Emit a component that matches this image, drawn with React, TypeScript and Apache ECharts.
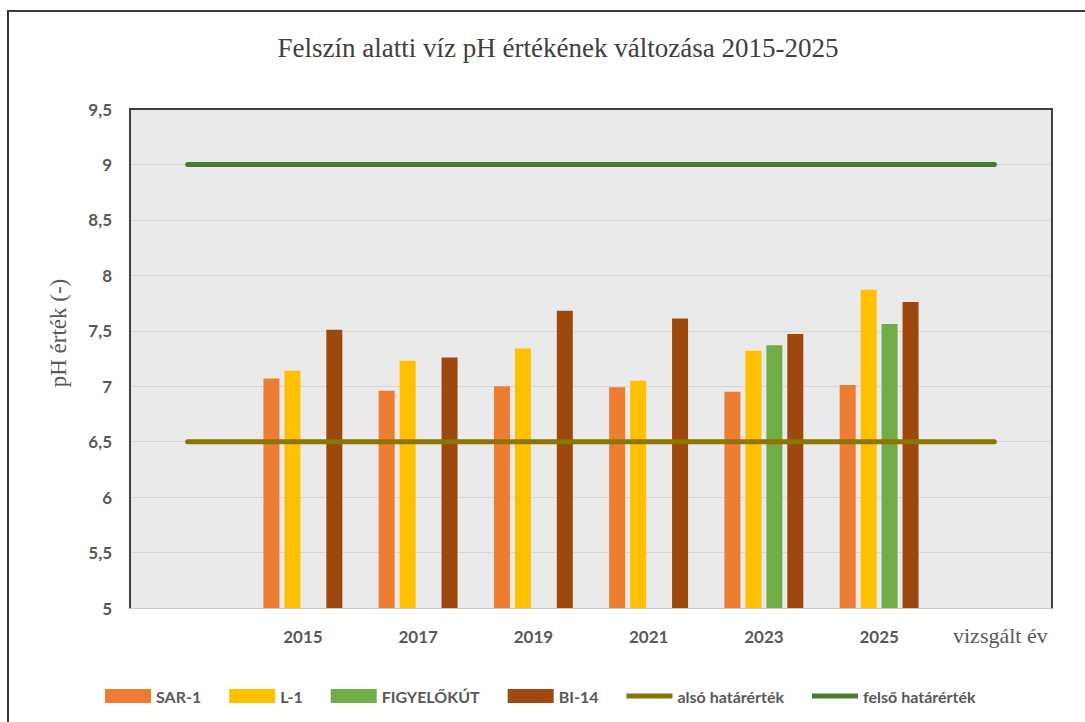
import React, { useEffect, useRef } from "react";
import * as echarts from "echarts";

const categories = ["", "2015", "2017", "2019", "2021", "2023", "2025", ""];
const sar1 = [null, 7.07, 6.96, 7.0, 6.99, 6.95, 7.01, null];
const l1 = [null, 7.14, 7.23, 7.34, 7.05, 7.32, 7.87, null];
const figyelokut = [null, null, null, null, null, 7.37, 7.56, null];
const bi14 = [null, 7.51, 7.26, 7.68, 7.61, 7.47, 7.76, null];
const alsoHatar = [6.5, 6.5, 6.5, 6.5, 6.5, 6.5, 6.5, 6.5];
const felsoHatar = [9, 9, 9, 9, 9, 9, 9, 9];
const yMin = 5;
const yMax = 9.5;
const yStep = 0.5;

const labelFont = "Lato, 'Open Sans', sans-serif";
const serifFont = "'Liberation Serif', 'DejaVu Serif', serif";
const textGray = "#595959";
const lineIcon = "path://M0,0L46,0L46,5L0,5Z";

export default function App() {
  const ref = useRef<HTMLDivElement>(null);
  useEffect(() => {
    if (!ref.current) return;
    const chart = echarts.init(ref.current, undefined, { renderer: "svg" });
    const bar = (name: string, data: any[], color: string) => ({
      name,
      type: "bar",
      data,
      barWidth: 16,
      barGap: "31%",
      itemStyle: { color },
      z: 2,
    });
    const line = (name: string, data: number[], color: string) => ({
      name,
      type: "line",
      data,
      symbol: "none",
      lineStyle: { color, width: 5, cap: "round" },
      itemStyle: { color },
      z: 3,
    });
    chart.setOption({
      animation: false,
      backgroundColor: "#ffffff",
      title: {
        text: "Felszín alatti víz pH értékének változása 2015-2025",
        left: 553,
        textAlign: "center",
        top: 29,
        textStyle: {
          fontFamily: serifFont,
          fontSize: 27,
          fontWeight: "normal",
          color: "#404040",
        },
      },
      grid: {
        left: 130,
        right: 33,
        top: 109,
        bottom: 114,
        show: true,
        backgroundColor: "#eaeaea",
        borderWidth: 0,
      },
      legend: {
        left: 100,
        top: 683,
        itemWidth: 46,
        itemHeight: 14,
        itemGap: 28,
        textStyle: {
          fontFamily: labelFont,
          fontWeight: "bold",
          fontSize: 16,
          color: textGray,
        },
        data: [
          { name: "SAR-1", icon: "rect" },
          { name: "L-1", icon: "rect" },
          { name: "FIGYELŐKÚT", icon: "rect" },
          { name: "BI-14", icon: "rect" },
          { name: "alsó határérték", icon: lineIcon },
          { name: "felső határérték", icon: lineIcon },
        ],
      },
      xAxis: [
        {
          type: "category",
          data: categories,
          boundaryGap: true,
          axisLine: { lineStyle: { color: "#c8c8c8", width: 1 } },
          axisTick: { show: false },
          axisLabel: {
            margin: 20,
            fontFamily: labelFont,
            fontWeight: "bold",
            fontSize: 17,
            color: textGray,
            interval: 0,
          },
          name: "vizsgált év",
          nameLocation: "end",
          nameGap: -99,
          nameTextStyle: {
            fontFamily: serifFont,
            fontSize: 22,
            color: textGray,
            align: "left",
            verticalAlign: "top",
            padding: [16, 0, 0, 0],
          },
        },
        {
          type: "category",
          data: categories,
          position: "top",
          axisLine: { lineStyle: { color: "#404040", width: 2 } },
          axisTick: { show: false },
          axisLabel: { show: false },
        },
      ],
      yAxis: [
        {
          type: "value",
          min: yMin,
          max: yMax,
          interval: yStep,
          axisLine: { show: true, lineStyle: { color: "#404040", width: 2 } },
          axisTick: { show: false },
          splitLine: { lineStyle: { color: "#d6d6d6", width: 1 } },
          axisLabel: {
            margin: 18,
            fontFamily: labelFont,
            fontWeight: "bold",
            fontSize: 17,
            color: textGray,
            formatter: (v: number) => String(v).replace(".", ","),
          },
        },
        {
          type: "value",
          min: yMin,
          max: yMax,
          interval: yStep,
          position: "right",
          axisLine: { show: true, lineStyle: { color: "#404040", width: 2 } },
          axisTick: { show: false },
          splitLine: { show: false },
          axisLabel: { show: false },
        },
      ],
      graphic: [
        {
          type: "rect",
          shape: { x: 8, y: 11, width: 1200, height: 900 },
          style: { fill: "none", stroke: "#3a3a3a", lineWidth: 2 },
          silent: true,
          z: -1,
        },
        {
          type: "text",
          x: 58,
          y: 333,
          rotation: Math.PI / 2,
          style: {
            text: "pH érték (-)",
            fontFamily: serifFont,
            fontSize: 23,
            fill: textGray,
            textAlign: "center",
            textVerticalAlign: "middle",
          },
        },
      ],
      series: [
        bar("SAR-1", sar1, "#ed7d31"),
        bar("L-1", l1, "#ffc000"),
        bar("FIGYELŐKÚT", figyelokut, "#70ad47"),
        bar("BI-14", bi14, "#9e480e"),
        line("alsó határérték", alsoHatar, "#8c7505"),
        line("felső határérték", felsoHatar, "#4a7a2e"),
      ],
    });
    return () => chart.dispose();
  }, []);
  return <div ref={ref} style={{ width: 1085, height: 722, position: "absolute", left: 0, top: 0 }} />;
}
